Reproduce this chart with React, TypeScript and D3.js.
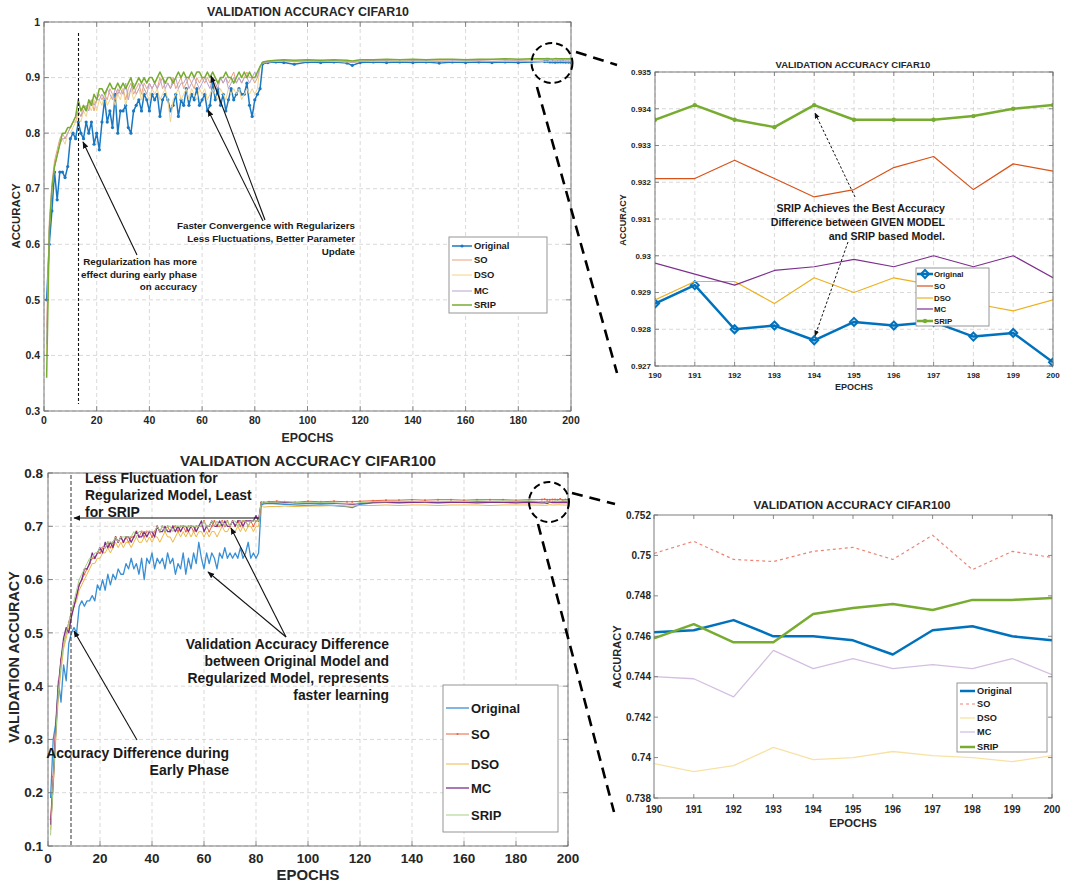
import React from 'react';
import * as d3 from 'd3';

const FONT = '"Liberation Sans", Arial, Helvetica, sans-serif';

// ---------- epochs ----------
const earlyEpochs = d3.range(1, 83); // 1..82
const lateEpochs = [83, 85, 88, 91, 95, 100, 105, 110, 115, 117, 120, 125, 130, 135, 140, 145, 150, 155, 160, 165, 170, 175, 180, 185];
const zoomEpochs = [190, 191, 192, 193, 194, 195, 196, 197, 198, 199, 200];
const seriesNames = ['Original', 'SO', 'DSO', 'MC', 'SRIP'];

// ---------- CIFAR10 (epochs 1..82) ----------
const orig10Early = [0.50,0.60,0.66,0.73,0.68,0.73,0.73,0.72,0.74,0.79,0.80,0.79,0.82,0.80,0.79,0.82,0.80,0.82,0.78,0.80,
  0.77,0.82,0.86,0.82,0.84,0.81,0.87,0.80,0.84,0.84,0.85,0.81,0.80,0.84,0.85,0.86,0.84,0.87,0.86,0.84,
  0.87,0.86,0.87,0.83,0.86,0.87,0.86,0.84,0.85,0.87,0.83,0.86,0.85,0.88,0.85,0.87,0.86,0.88,0.85,0.86,
  0.87,0.84,0.85,0.89,0.86,0.88,0.85,0.87,0.84,0.86,0.88,0.86,0.87,0.88,0.87,0.87,0.89,0.85,0.83,0.86,
  0.87,0.88];
const so10Early = [0.45,0.64,0.71,0.75,0.77,0.79,0.80,0.79,0.80,0.81,0.82,0.82,0.84,0.83,0.85,0.84,0.85,0.86,0.84,0.86,
  0.87,0.86,0.87,0.86,0.88,0.87,0.86,0.88,0.87,0.88,0.86,0.88,0.89,0.87,0.88,0.89,0.87,0.89,0.88,0.89,
  0.88,0.89,0.88,0.90,0.88,0.89,0.89,0.88,0.90,0.88,0.89,0.90,0.88,0.89,0.90,0.89,0.88,0.90,0.89,0.90,
  0.89,0.90,0.89,0.90,0.88,0.89,0.90,0.89,0.90,0.89,0.90,0.91,0.89,0.90,0.89,0.90,0.91,0.90,0.90,0.89,
  0.90,0.92];
const dso10Early = [0.40,0.63,0.70,0.74,0.76,0.78,0.79,0.78,0.80,0.80,0.81,0.82,0.83,0.82,0.84,0.83,0.85,0.84,0.86,0.84,
  0.86,0.85,0.87,0.85,0.86,0.87,0.85,0.87,0.86,0.88,0.85,0.87,0.88,0.86,0.87,0.88,0.86,0.88,0.87,0.86,
  0.88,0.87,0.88,0.86,0.87,0.88,0.86,0.82,0.86,0.87,0.88,0.86,0.87,0.88,0.86,0.88,0.87,0.86,0.88,0.87,
  0.88,0.86,0.87,0.88,0.87,0.86,0.88,0.87,0.86,0.88,0.87,0.88,0.87,0.88,0.86,0.87,0.88,0.87,0.88,0.87,
  0.88,0.92];
const mc10Early = [0.42,0.63,0.70,0.74,0.76,0.78,0.79,0.79,0.80,0.81,0.82,0.83,0.84,0.83,0.84,0.85,0.84,0.86,0.85,0.86,
  0.86,0.87,0.86,0.88,0.87,0.86,0.88,0.87,0.88,0.87,0.89,0.86,0.88,0.89,0.87,0.88,0.89,0.88,0.87,0.89,
  0.88,0.89,0.88,0.89,0.90,0.88,0.89,0.88,0.89,0.90,0.88,0.89,0.89,0.90,0.88,0.89,0.90,0.89,0.88,0.89,
  0.90,0.89,0.88,0.90,0.89,0.88,0.90,0.89,0.90,0.88,0.89,0.90,0.89,0.90,0.89,0.90,0.90,0.89,0.90,0.91,
  0.90,0.92];
const srip10Early = [0.36,0.62,0.70,0.74,0.76,0.78,0.80,0.80,0.81,0.81,0.82,0.83,0.86,0.84,0.85,0.84,0.86,0.85,0.87,0.86,
  0.88,0.88,0.87,0.88,0.89,0.88,0.88,0.89,0.88,0.89,0.88,0.89,0.90,0.88,0.89,0.90,0.89,0.90,0.89,0.90,
  0.90,0.89,0.90,0.91,0.90,0.89,0.90,0.90,0.89,0.90,0.91,0.90,0.91,0.90,0.90,0.91,0.90,0.91,0.91,0.90,
  0.90,0.91,0.90,0.91,0.90,0.89,0.90,0.90,0.91,0.90,0.90,0.89,0.90,0.91,0.90,0.91,0.90,0.91,0.90,0.90,
  0.91,0.92];
// CIFAR10 plateau (lateEpochs)
const orig10Late = [0.925,0.927,0.928,0.927,0.924,0.928,0.927,0.928,0.926,0.922,0.927,0.928,0.927,0.928,0.927,0.928,0.926,0.928,0.927,0.928,0.927,0.928,0.927,0.928];
const so10Late = [0.927,0.929,0.930,0.931,0.929,0.930,0.931,0.930,0.929,0.928,0.930,0.931,0.931,0.932,0.931,0.932,0.931,0.932,0.932,0.931,0.932,0.932,0.931,0.932];
const dso10Late = [0.926,0.928,0.929,0.930,0.928,0.929,0.930,0.929,0.928,0.927,0.929,0.929,0.930,0.929,0.930,0.929,0.930,0.929,0.929,0.930,0.929,0.929,0.930,0.929];
const mc10Late = [0.926,0.928,0.930,0.930,0.929,0.930,0.929,0.930,0.929,0.927,0.929,0.930,0.930,0.929,0.930,0.930,0.929,0.930,0.930,0.930,0.929,0.930,0.930,0.929];
const srip10Late = [0.928,0.930,0.931,0.932,0.931,0.932,0.931,0.932,0.931,0.930,0.932,0.932,0.933,0.932,0.933,0.932,0.933,0.933,0.932,0.933,0.933,0.934,0.933,0.934];
// CIFAR10 zoom (190..200)
const orig10Zoom = [0.9287,0.9292,0.9280,0.9281,0.9277,0.9282,0.9281,0.9282,0.9278,0.9279,0.9271];
const so10Zoom = [0.9321,0.9321,0.9326,0.9321,0.9316,0.9318,0.9324,0.9327,0.9318,0.9325,0.9323];
const dso10Zoom = [0.9288,0.9293,0.9293,0.9287,0.9294,0.9290,0.9294,0.9292,0.9287,0.9285,0.9288];
const mc10Zoom = [0.9298,0.9295,0.9292,0.9296,0.9297,0.9299,0.9297,0.9300,0.9297,0.9300,0.9294];
const srip10Zoom = [0.9337,0.9341,0.9337,0.9335,0.9341,0.9337,0.9337,0.9337,0.9338,0.9340,0.9341];

// ---------- CIFAR100 (epochs 1..82) ----------
const orig100Early = [0.19,0.30,0.33,0.41,0.37,0.44,0.41,0.48,0.50,0.51,0.50,0.55,0.56,0.55,0.56,0.56,0.57,0.56,0.59,0.58,
  0.60,0.58,0.61,0.59,0.61,0.60,0.62,0.61,0.61,0.63,0.62,0.64,0.62,0.63,0.61,0.64,0.60,0.64,0.63,0.65,
  0.62,0.64,0.63,0.64,0.62,0.65,0.63,0.64,0.61,0.63,0.62,0.65,0.61,0.64,0.62,0.65,0.63,0.67,0.64,0.62,
  0.65,0.63,0.65,0.64,0.62,0.65,0.64,0.66,0.64,0.65,0.64,0.65,0.64,0.66,0.64,0.65,0.67,0.64,0.65,0.64,
  0.65,0.74];
const so100Early = [0.15,0.23,0.33,0.40,0.45,0.48,0.50,0.52,0.54,0.55,0.57,0.59,0.60,0.61,0.62,0.63,0.64,0.64,0.65,0.65,
  0.66,0.66,0.67,0.66,0.67,0.68,0.67,0.68,0.67,0.68,0.67,0.68,0.68,0.69,0.68,0.69,0.68,0.69,0.69,0.68,
  0.69,0.70,0.69,0.70,0.69,0.70,0.69,0.70,0.70,0.69,0.70,0.70,0.69,0.70,0.70,0.69,0.70,0.70,0.70,0.71,
  0.70,0.69,0.70,0.71,0.70,0.70,0.71,0.70,0.71,0.70,0.71,0.70,0.71,0.70,0.71,0.71,0.70,0.71,0.70,0.71,
  0.71,0.745];
const dso100Early = [0.13,0.21,0.30,0.38,0.43,0.47,0.49,0.51,0.53,0.55,0.56,0.58,0.59,0.60,0.61,0.62,0.63,0.63,0.64,0.64,
  0.65,0.65,0.66,0.65,0.66,0.67,0.66,0.67,0.66,0.67,0.67,0.66,0.67,0.68,0.67,0.67,0.68,0.67,0.68,0.67,
  0.68,0.68,0.67,0.68,0.69,0.68,0.68,0.67,0.68,0.69,0.68,0.69,0.68,0.69,0.68,0.69,0.68,0.69,0.69,0.68,
  0.69,0.68,0.69,0.69,0.68,0.69,0.70,0.69,0.69,0.70,0.69,0.69,0.70,0.69,0.70,0.69,0.70,0.70,0.69,0.70,
  0.70,0.74];
const mc100Early = [0.14,0.22,0.32,0.40,0.45,0.49,0.51,0.50,0.53,0.55,0.57,0.59,0.60,0.62,0.62,0.63,0.65,0.64,0.65,0.66,
  0.65,0.67,0.66,0.67,0.66,0.68,0.67,0.68,0.67,0.68,0.68,0.67,0.68,0.69,0.68,0.68,0.69,0.68,0.69,0.69,
  0.68,0.70,0.69,0.69,0.70,0.69,0.69,0.70,0.69,0.70,0.69,0.70,0.70,0.69,0.70,0.70,0.69,0.70,0.71,0.69,
  0.70,0.70,0.71,0.70,0.70,0.71,0.70,0.71,0.70,0.70,0.71,0.70,0.71,0.71,0.70,0.71,0.71,0.71,0.71,0.72,
  0.71,0.745];
const srip100Early = [0.12,0.22,0.31,0.39,0.44,0.48,0.50,0.52,0.54,0.56,0.58,0.60,0.61,0.62,0.63,0.64,0.64,0.65,0.65,0.66,
  0.66,0.66,0.67,0.67,0.67,0.68,0.67,0.68,0.68,0.68,0.68,0.68,0.69,0.68,0.69,0.69,0.69,0.69,0.69,0.69,
  0.69,0.70,0.69,0.70,0.69,0.70,0.70,0.69,0.70,0.70,0.70,0.70,0.70,0.70,0.70,0.70,0.70,0.70,0.70,0.71,
  0.70,0.70,0.71,0.70,0.71,0.70,0.71,0.70,0.71,0.70,0.71,0.71,0.70,0.71,0.71,0.71,0.70,0.71,0.71,0.71,
  0.71,0.745];
const orig100Late = [0.742,0.743,0.742,0.741,0.740,0.739,0.740,0.739,0.737,0.735,0.741,0.744,0.745,0.745,0.746,0.745,0.745,0.746,0.745,0.746,0.746,0.745,0.746,0.746];
const so100Late = [0.745,0.746,0.747,0.746,0.745,0.747,0.746,0.747,0.746,0.746,0.747,0.748,0.749,0.749,0.750,0.749,0.750,0.750,0.749,0.750,0.750,0.750,0.749,0.750];
const dso100Late = [0.736,0.737,0.737,0.738,0.737,0.738,0.738,0.739,0.738,0.738,0.739,0.739,0.740,0.739,0.740,0.740,0.739,0.740,0.740,0.740,0.739,0.740,0.740,0.740];
const mc100Late = [0.744,0.745,0.744,0.745,0.744,0.743,0.744,0.743,0.742,0.741,0.743,0.745,0.745,0.744,0.745,0.745,0.744,0.745,0.745,0.744,0.745,0.745,0.744,0.745];
const srip100Late = [0.744,0.745,0.745,0.746,0.745,0.744,0.745,0.744,0.743,0.742,0.744,0.746,0.746,0.747,0.747,0.746,0.747,0.747,0.747,0.748,0.747,0.748,0.747,0.748];
const orig100Zoom = [0.7462,0.7463,0.7468,0.7460,0.7460,0.7458,0.7451,0.7463,0.7465,0.7460,0.7458];
const so100Zoom = [0.7501,0.7507,0.7498,0.7497,0.7502,0.7504,0.7498,0.7510,0.7493,0.7502,0.7499];
const dso100Zoom = [0.7397,0.7393,0.7396,0.7405,0.7399,0.7400,0.7403,0.7401,0.7400,0.7398,0.7401];
const mc100Zoom = [0.7440,0.7439,0.7430,0.7453,0.7444,0.7449,0.7444,0.7446,0.7444,0.7449,0.7441];
const srip100Zoom = [0.7459,0.7466,0.7457,0.7457,0.7471,0.7474,0.7476,0.7473,0.7478,0.7478,0.7479];

// ---------- ticks ----------
const xTicksFull = [0, 20, 40, 60, 80, 100, 120, 140, 160, 180, 200];
const xTicksZoom = [190, 191, 192, 193, 194, 195, 196, 197, 198, 199, 200];
const yTicks10 = [0.3, 0.4, 0.5, 0.6, 0.7, 0.8, 0.9, 1];
const yTicks10Zoom = [0.927, 0.928, 0.929, 0.93, 0.931, 0.932, 0.933, 0.934, 0.935];
const yTicks100 = [0.1, 0.2, 0.3, 0.4, 0.5, 0.6, 0.7, 0.8];
const yTicks100Zoom = [0.738, 0.74, 0.742, 0.744, 0.746, 0.748, 0.75, 0.752];

const fullEpochs = [...earlyEpochs, ...lateEpochs, ...zoomEpochs];

type Marker = 'dot' | 'diamond' | 'star' | undefined;
type Series = { name: string; values: number[]; color: string; width: number; dash?: string; marker?: Marker; ms?: number };
type Legend = { x: number; y: number; w: number; h: number; rows: number[]; l0: number; l1: number; tx: number; font: number };
type Cfg = {
  id: string; left: number; top: number; width: number; height: number;
  xDomain: [number, number]; yDomain: [number, number];
  xTicks: number[]; yTicks: number[]; tickFont: number; xTickY: number; yTickX: number; tickLen: number;
  title: string; titleX: number; titleY: number; titleFont: number;
  xLabel: string; xLabelY: number; xLabelFont: number;
  yLabel: string; yLabelX: number; yLabelY: number; yLabelFont: number;
  grid: boolean; epochs: number[]; series: Series[]; legend: Legend;
};

const fmt = (v: number) => String(+v.toFixed(3));

function MarkerShape({ m, cx, cy, color, s }: { m: Marker; cx: number; cy: number; color: string; s: number }) {
  if (m === 'dot') return <circle cx={cx} cy={cy} r={s} fill={color} />;
  if (m === 'diamond')
    return <path d={`M${cx},${cy - s}L${cx + s},${cy}L${cx},${cy + s}L${cx - s},${cy}Z`} fill="none" stroke={color} strokeWidth={2} />;
  if (m === 'star') return <circle cx={cx} cy={cy} r={s} fill={color} />;
  return null;
}

function Panel({ cfg }: { cfg: Cfg }) {
  const x = d3.scaleLinear().domain(cfg.xDomain).range([cfg.left, cfg.left + cfg.width]);
  const y = d3.scaleLinear().domain(cfg.yDomain).range([cfg.top + cfg.height, cfg.top]);
  const line = d3.line<[number, number]>().x(d => x(d[0])).y(d => y(d[1]));
  const axisColor = '#6e6e6e';
  const tl = cfg.tickLen;
  const L = cfg.left, R = cfg.left + cfg.width, T = cfg.top, B = cfg.top + cfg.height;
  const lg = cfg.legend;
  return (
    <g>
      <defs>
        <clipPath id={cfg.id}>
          <rect x={L} y={T - 4} width={cfg.width} height={cfg.height + 8} />
        </clipPath>
      </defs>
      <rect x={L} y={T} width={cfg.width} height={cfg.height} fill="#fff" />
      {cfg.grid && (
        <g stroke="#cfcfcf" strokeWidth={0.8} strokeDasharray="4 3">
          {cfg.xTicks.map(t => <line key={'gx' + t} x1={x(t)} x2={x(t)} y1={T} y2={B} />)}
          {cfg.yTicks.map(t => <line key={'gy' + t} x1={L} x2={R} y1={y(t)} y2={y(t)} />)}
        </g>
      )}
      <g clipPath={`url(#${cfg.id})`}>
        {cfg.series.map(s => {
          const pts = cfg.epochs.map((e, i) => [e, s.values[i]] as [number, number]);
          return (
            <g key={s.name}>
              <path d={line(pts) || ''} fill="none" stroke={s.color} strokeWidth={s.width} strokeDasharray={s.dash} strokeLinejoin="round" />
              {s.marker && pts.map((p, i) => (
                <MarkerShape key={i} m={s.marker} cx={x(p[0])} cy={y(p[1])} color={s.color} s={s.ms || 1.5} />
              ))}
            </g>
          );
        })}
      </g>
      <rect x={L} y={T} width={cfg.width} height={cfg.height} fill="none" stroke={axisColor} strokeWidth={0.9} />
      <g stroke={axisColor} strokeWidth={0.8}>
        {cfg.xTicks.map(t => (
          <g key={'tx' + t}>
            <line x1={x(t)} x2={x(t)} y1={B} y2={B - tl} />
            <line x1={x(t)} x2={x(t)} y1={T} y2={T + tl} />
          </g>
        ))}
        {cfg.yTicks.map(t => (
          <g key={'ty' + t}>
            <line x1={L} x2={L + tl} y1={y(t)} y2={y(t)} />
            <line x1={R} x2={R - tl} y1={y(t)} y2={y(t)} />
          </g>
        ))}
      </g>
      <g fontFamily={FONT} fontWeight="bold" fontSize={cfg.tickFont} fill="#262626">
        {cfg.xTicks.map(t => (
          <text key={'lx' + t} x={x(t)} y={cfg.xTickY} textAnchor="middle">{fmt(t)}</text>
        ))}
        {cfg.yTicks.map(t => (
          <text key={'ly' + t} x={cfg.yTickX} y={y(t)} dy="0.35em" textAnchor="end">{fmt(t)}</text>
        ))}
      </g>
      <text x={cfg.titleX} y={cfg.titleY} textAnchor="middle" fontFamily={FONT} fontWeight="bold" fontSize={cfg.titleFont} fill="#262626">{cfg.title}</text>
      <text x={(L + R) / 2} y={cfg.xLabelY} textAnchor="middle" fontFamily={FONT} fontWeight="bold" fontSize={cfg.xLabelFont} fill="#262626">{cfg.xLabel}</text>
      <text transform={`translate(${cfg.yLabelX},${cfg.yLabelY}) rotate(-90)`} textAnchor="middle" dy="0.35em" fontFamily={FONT} fontWeight="bold" fontSize={cfg.yLabelFont} fill="#262626">{cfg.yLabel}</text>
      <g>
        <rect x={lg.x} y={lg.y} width={lg.w} height={lg.h} fill="#fff" stroke="#8a8a8a" strokeWidth={0.9} />
        {cfg.series.map((s, i) => (
          <g key={'lg' + s.name}>
            <line x1={lg.l0} x2={lg.l1} y1={lg.rows[i]} y2={lg.rows[i]} stroke={s.color} strokeWidth={s.width} strokeDasharray={s.dash} />
            {s.marker && <MarkerShape m={s.marker} cx={(lg.l0 + lg.l1) / 2} cy={lg.rows[i]} color={s.color} s={s.ms || 1.5} />}
            <text x={lg.tx} y={lg.rows[i]} dy="0.35em" fontFamily={FONT} fontWeight="bold" fontSize={lg.font} fill="#1a1a1a">{s.name}</text>
          </g>
        ))}
      </g>
    </g>
  );
}

const c10: Cfg = {
  id: 'c10', left: 44, top: 22, width: 527, height: 389,
  xDomain: [0, 200], yDomain: [0.3, 1], xTicks: xTicksFull, yTicks: yTicks10,
  tickFont: 10.5, xTickY: 424, yTickX: 40, tickLen: 5,
  title: 'VALIDATION ACCURACY CIFAR10', titleX: 308, titleY: 16, titleFont: 12.4,
  xLabel: 'EPOCHS', xLabelY: 442, xLabelFont: 12.3,
  yLabel: 'ACCURACY', yLabelX: 16, yLabelY: 216, yLabelFont: 11.4,
  grid: true, epochs: fullEpochs,
  series: [
    { name: seriesNames[0], values: [...orig10Early, ...orig10Late, ...orig10Zoom], color: '#1a78c2', width: 1.5, marker: 'dot', ms: 1.6 },
    { name: seriesNames[1], values: [...so10Early, ...so10Late, ...so10Zoom], color: '#e8a27e', width: 1 },
    { name: seriesNames[2], values: [...dso10Early, ...dso10Late, ...dso10Zoom], color: '#f1d488', width: 1 },
    { name: seriesNames[3], values: [...mc10Early, ...mc10Late, ...mc10Zoom], color: '#b9a2cc', width: 1 },
    { name: seriesNames[4], values: [...srip10Early, ...srip10Late, ...srip10Zoom], color: '#77ac30', width: 1.5 },
  ],
  legend: { x: 449, y: 237, w: 98, h: 76, rows: [246, 260, 275, 291, 305], l0: 452, l1: 472, tx: 474, font: 9.4 },
};

const c10z: Cfg = {
  id: 'c10z', left: 655, top: 72, width: 398, height: 294,
  xDomain: [190, 200], yDomain: [0.927, 0.935], xTicks: xTicksZoom, yTicks: yTicks10Zoom,
  tickFont: 8, xTickY: 378, yTickX: 651, tickLen: 4,
  title: 'VALIDATION ACCURACY CIFAR10', titleX: 853, titleY: 68, titleFont: 9.5,
  xLabel: 'EPOCHS', xLabelY: 390, xLabelFont: 9,
  yLabel: 'ACCURACY', yLabelX: 623, yLabelY: 220, yLabelFont: 9,
  grid: true, epochs: zoomEpochs,
  series: [
    { name: seriesNames[0], values: orig10Zoom, color: '#0072bd', width: 2.5, marker: 'diamond', ms: 4 },
    { name: seriesNames[1], values: so10Zoom, color: '#d95319', width: 1.2 },
    { name: seriesNames[2], values: dso10Zoom, color: '#edb120', width: 1.2 },
    { name: seriesNames[3], values: mc10Zoom, color: '#7e2f8e', width: 1.2 },
    { name: seriesNames[4], values: srip10Zoom, color: '#77ac30', width: 2.5, marker: 'star', ms: 2.2 },
  ],
  legend: { x: 916, y: 268, w: 73, h: 58, rows: [274, 286, 298, 309, 321], l0: 917, l1: 933, tx: 934, font: 7.8 },
};

const c100: Cfg = {
  id: 'c100', left: 48, top: 473, width: 520, height: 373,
  xDomain: [0, 200], yDomain: [0.1, 0.8], xTicks: xTicksFull, yTicks: yTicks100,
  tickFont: 13.5, xTickY: 863, yTickX: 43, tickLen: 5,
  title: 'VALIDATION ACCURACY CIFAR100', titleX: 308, titleY: 466, titleFont: 15.2,
  xLabel: 'EPOCHS', xLabelY: 880, xLabelFont: 14.9,
  yLabel: 'VALIDATION ACCURACY', yLabelX: 14, yLabelY: 657, yLabelFont: 14.4,
  grid: true, epochs: fullEpochs,
  series: [
    { name: seriesNames[0], values: [...orig100Early, ...orig100Late, ...orig100Zoom], color: '#3a8fd4', width: 1.3 },
    { name: seriesNames[1], values: [...so100Early, ...so100Late, ...so100Zoom], color: '#e8633c', width: 1, marker: 'dot', ms: 1 },
    { name: seriesNames[2], values: [...dso100Early, ...dso100Late, ...dso100Zoom], color: '#f0b640', width: 1 },
    { name: seriesNames[3], values: [...mc100Early, ...mc100Late, ...mc100Zoom], color: '#7e2f8e', width: 1.3 },
    { name: seriesNames[4], values: [...srip100Early, ...srip100Late, ...srip100Zoom], color: '#a3d087', width: 1 },
  ],
  legend: { x: 443, y: 685, w: 115, h: 147, rows: [708, 734, 764, 788, 815], l0: 446, l1: 469, tx: 471, font: 13 },
};

const c100z: Cfg = {
  id: 'c100z', left: 654, top: 515, width: 398, height: 283,
  xDomain: [190, 200], yDomain: [0.738, 0.752], xTicks: xTicksZoom, yTicks: yTicks100Zoom,
  tickFont: 10, xTickY: 813, yTickX: 651, tickLen: 4,
  title: 'VALIDATION ACCURACY CIFAR100', titleX: 852, titleY: 509, titleFont: 11.7,
  xLabel: 'EPOCHS', xLabelY: 827, xLabelFont: 11.3,
  yLabel: 'ACCURACY', yLabelX: 617, yLabelY: 657, yLabelFont: 11,
  grid: false, epochs: zoomEpochs,
  series: [
    { name: seriesNames[0], values: orig100Zoom, color: '#0072bd', width: 2.5 },
    { name: seriesNames[1], values: so100Zoom, color: '#ee8373', width: 1.2, dash: '3 3' },
    { name: seriesNames[2], values: dso100Zoom, color: '#f7e2a6', width: 1.3 },
    { name: seriesNames[3], values: mc100Zoom, color: '#d4bfe1', width: 1.3 },
    { name: seriesNames[4], values: srip100Zoom, color: '#77ac30', width: 2.5 },
  ],
  legend: { x: 957, y: 683, w: 90, h: 69, rows: [691, 704, 718, 732, 747], l0: 960, l1: 975, tx: 977, font: 9.2 },
};

function Arrow({ x1, y1, x2, y2, dotted }: { x1: number; y1: number; x2: number; y2: number; dotted?: boolean }) {
  return (
    <line x1={x1} y1={y1} x2={x2} y2={y2} stroke="#111" strokeWidth={dotted ? 1 : 1.1}
      strokeDasharray={dotted ? '2.5 2' : undefined} markerEnd={dotted ? 'url(#ahs)' : 'url(#ah)'} />
  );
}

function Lines({ x, y, lines, size, anchor, lh }: { x: number; y: number; lines: string[]; size: number; anchor: string; lh: number }) {
  return (
    <g fontFamily={FONT} fontWeight="bold" fontSize={size} fill="#1a1a1a" textAnchor={anchor}>
      {lines.map((t, i) => <text key={i} x={x} y={y + i * lh}>{t}</text>)}
    </g>
  );
}

export default function App() {
  return (
    <svg width={1067} height={884} style={{ position: 'absolute', left: 0, top: 0, background: '#fff' }}>
      <defs>
        <marker id="ah" viewBox="0 0 10 10" refX="9" refY="5" markerWidth="7" markerHeight="7" orient="auto-start-reverse" markerUnits="userSpaceOnUse">
          <path d="M0,1 L10,5 L0,9 Z" fill="#111" />
        </marker>
        <marker id="ahs" viewBox="0 0 10 10" refX="9" refY="5" markerWidth="6" markerHeight="6" orient="auto-start-reverse" markerUnits="userSpaceOnUse">
          <path d="M0,1 L10,5 L0,9 Z" fill="#111" />
        </marker>
      </defs>
      <rect x={0} y={0} width={1067} height={884} fill="#fff" />
      <Panel cfg={c10} />
      <Panel cfg={c10z} />
      <Panel cfg={c100} />
      <Panel cfg={c100z} />

      {/* CIFAR10 annotations */}
      <line x1={78.5} x2={78.5} y1={33} y2={404} stroke="#111" strokeWidth={1.1} strokeDasharray="3 2" />
      <Arrow x1={137} y1={255} x2={83} y2={142} />
      <Arrow x1={265} y1={220} x2={211} y2={76} />
      <Arrow x1={263} y1={221} x2={208} y2={110} />
      <Lines x={355} y={229} lh={12.8} size={9.8} anchor="end" lines={['Faster Convergence with Regularizers', 'Less Fluctuations, Better Parameter', 'Update']} />
      <Lines x={197} y={265} lh={12.6} size={9.8} anchor="end" lines={['Regularization has more', 'effect during early phase', 'on accuracy']} />

      {/* zoom CIFAR10 annotations */}
      <Arrow x1={855} y1={197} x2={815} y2={113} dotted />
      <Arrow x1={848} y1={242} x2={815} y2={336} dotted />
      <Lines x={945} y={212} lh={14} size={10.6} anchor="end" lines={['SRIP Achieves the Best Accuracy', 'Difference between GIVEN MODEL', 'and SRIP based Model.']} />

      {/* CIFAR100 annotations */}
      <line x1={71} x2={71} y1={475} y2={846} stroke="#333" strokeWidth={1} strokeDasharray="4 2" />
      <Arrow x1={259} y1={518} x2={74} y2={518} />
      <Arrow x1={286} y1={637} x2={231} y2={528} />
      <Arrow x1={286} y1={637} x2={208} y2={572} />
      <Arrow x1={137} y1={740} x2={74} y2={631} />
      <Lines x={85} y={483} lh={17} size={13.9} anchor="start" lines={['Less Fluctuation for', 'Regularized Model, Least', 'for SRIP']} />
      <Lines x={389} y={649} lh={17} size={13.9} anchor="end" lines={['Validation Accuracy Difference', 'between Original Model and', 'Regularized Model, represents', 'faster learning']} />
      <Lines x={229} y={758} lh={16.5} size={14} anchor="end" lines={['Accuracy Difference during', 'Early Phase']} />

      {/* zoom circles and connectors */}
      <g fill="none" stroke="#000" strokeWidth={2} strokeDasharray="7 4">
        <ellipse cx={552} cy={63} rx={20.5} ry={20} />
        <ellipse cx={549} cy={502} rx={20} ry={20} />
      </g>
      <g stroke="#000" strokeWidth={2.6} strokeDasharray="11 7">
        <line x1={576} y1={52} x2={617} y2={65} />
        <line x1={537} y1={87} x2={617} y2={373} />
        <line x1={572} y1={493} x2={615} y2={504} />
        <line x1={538} y1={524} x2={614} y2={812} />
      </g>
    </svg>
  );
}
